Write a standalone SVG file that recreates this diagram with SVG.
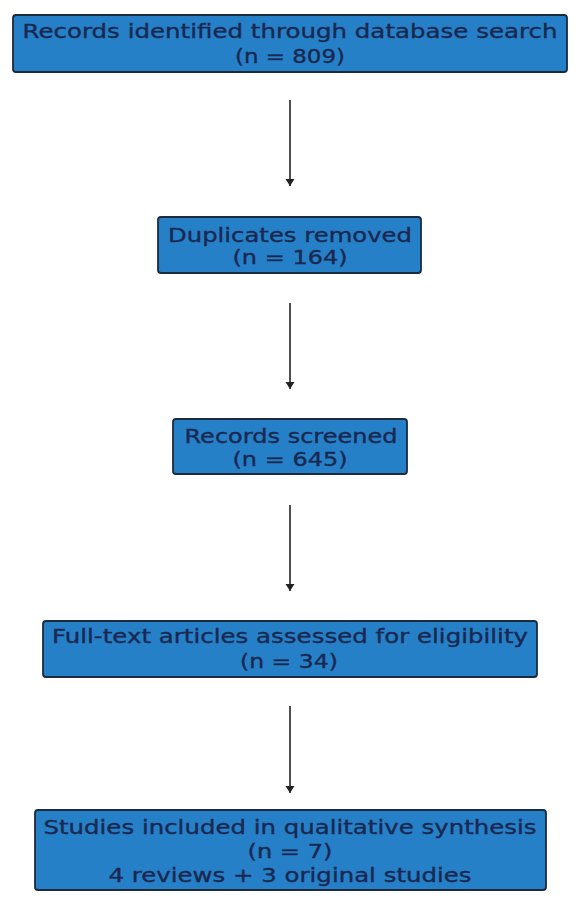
<svg xmlns="http://www.w3.org/2000/svg" width="579" height="917" viewBox="0 0 579 917">
<style>
.box{fill:#2580c8;stroke:#1b2a3c;stroke-width:1.8}
.t{font-family:"DejaVu Sans",sans-serif;font-size:19px;fill:#1a2850;stroke:#1a2850;stroke-width:0.35;text-anchor:middle}
.c{stroke:#222;stroke-width:1.6;fill:none}
</style>
<defs>
<marker id="ah" markerWidth="12" markerHeight="12" refX="9" refY="6" orient="auto" markerUnits="userSpaceOnUse">
<path d="M2,1.5 L9,6 L2,10.5 Z" fill="#222"/>
</marker>
</defs>
<rect width="579" height="917" fill="#fff"/>
<g id="n1"><rect class="box" x="13" y="15" width="554" height="57" rx="3"/>
<text class="t" x="290" y="38" textLength="535" lengthAdjust="spacingAndGlyphs">Records identified through database search</text>
<text class="t" x="290" y="63" textLength="110" lengthAdjust="spacingAndGlyphs">(n = 809)</text></g>
<g id="n2"><rect class="box" x="158" y="217" width="263" height="56" rx="3"/>
<text class="t" x="290" y="242" textLength="244" lengthAdjust="spacingAndGlyphs">Duplicates removed</text>
<text class="t" x="290" y="264" textLength="115" lengthAdjust="spacingAndGlyphs">(n = 164)</text></g>
<g id="n3"><rect class="box" x="173" y="419" width="234" height="55" rx="3"/>
<text class="t" x="291" y="443" textLength="213" lengthAdjust="spacingAndGlyphs">Records screened</text>
<text class="t" x="290" y="466" textLength="115" lengthAdjust="spacingAndGlyphs">(n = 645)</text></g>
<g id="n4"><rect class="box" x="43" y="621" width="494" height="56" rx="3"/>
<text class="t" x="290" y="643" textLength="476" lengthAdjust="spacingAndGlyphs">Full-text articles assessed for eligibility</text>
<text class="t" x="289" y="668" textLength="98" lengthAdjust="spacingAndGlyphs">(n = 34)</text></g>
<g id="n5"><rect class="box" x="35" y="810" width="511" height="80" rx="3"/>
<text class="t" x="290" y="834" textLength="493" lengthAdjust="spacingAndGlyphs">Studies included in qualitative synthesis</text>
<text class="t" x="290" y="858" textLength="85" lengthAdjust="spacingAndGlyphs">(n = 7)</text>
<text class="t" x="290" y="882" textLength="363" lengthAdjust="spacingAndGlyphs">4 reviews + 3 original studies</text></g>
<g id="connectors">
<line class="c" x1="290" y1="100" x2="290" y2="186" marker-end="url(#ah)"/>
<line class="c" x1="290" y1="303" x2="290" y2="389" marker-end="url(#ah)"/>
<line class="c" x1="290" y1="505" x2="290" y2="591" marker-end="url(#ah)"/>
<line class="c" x1="290" y1="706" x2="290" y2="793" marker-end="url(#ah)"/>
</g>
</svg>
